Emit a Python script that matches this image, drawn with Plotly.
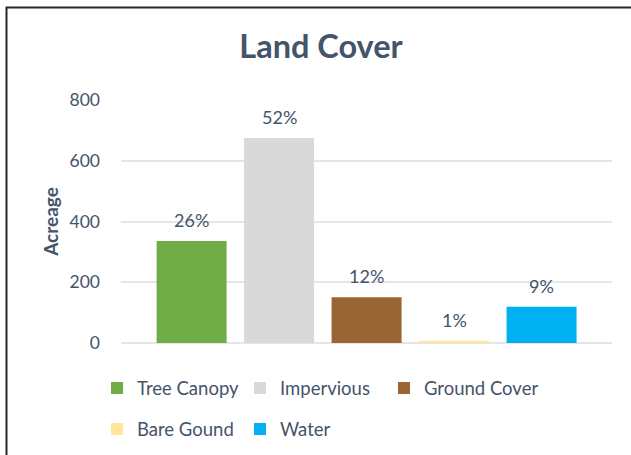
import plotly.graph_objects as go

# Land cover acreage by class
classes = ["Tree Canopy", "Impervious", "Ground Cover", "Bare Gound", "Water"]
acreage = [336, 675, 151, 7, 119]
colors = ["#70AD47", "#D9D9D9", "#996633", "#FFE699", "#00B0F0"]
y_ticks = [0, 200, 400, 600, 800]

total = sum(acreage)
pct_labels = [f"{round(100 * v / total)}%" for v in acreage]

TEXT = "#44546A"
FONT = "Lato"
GRID = "#E3E6EA"

W, H = 631, 455
ml, mr, mt, mb = 121, 19, 100, 112
pw, ph = W - ml - mr, H - mt - mb


def px_x(p):
    return (p - ml) / pw


def px_y(p):
    return (H - mb - p) / ph


# legend entry anchors (pixels): two rows, three columns
legend_pos = [(97, 388.5), (240, 388.5), (384, 388.5), (97, 429.5), (240, 429.5)]

fig = go.Figure()
legend_layout = {}
for i, (name, val, col) in enumerate(zip(classes, acreage, colors)):
    key = "legend" if i == 0 else f"legend{i + 1}"
    fig.add_trace(go.Bar(
        x=[i], y=[val], name=name, width=0.8,
        marker=dict(color=col, line=dict(width=0)),
        legend=key, hoverinfo="skip",
    ))
    fig.add_annotation(
        x=i, y=val, text=pct_labels[i], showarrow=False,
        yanchor="middle", yshift=21,
        font=dict(family=FONT, size=18, color=TEXT),
    )
    lx, ly = legend_pos[i]
    legend_layout[key] = dict(
        x=px_x(lx), y=px_y(ly), xanchor="left", yanchor="middle",
        orientation="h", itemwidth=30, borderwidth=0,
        bgcolor="rgba(0,0,0,0)",
        font=dict(family=FONT, size=18.5, color=TEXT),
    )

# chart frame
fig.add_shape(type="rect", xref="paper", yref="paper",
              x0=px_x(6.5), x1=px_x(660), y0=px_y(480), y1=px_y(7.5),
              line=dict(color="#262626", width=2), fillcolor="rgba(0,0,0,0)",
              layer="above")

fig.update_layout(
    width=W, height=H,
    margin=dict(l=ml, r=mr, t=mt, b=mb, autoexpand=False),
    paper_bgcolor="white", plot_bgcolor="white",
    barmode="overlay",
    title=dict(text="<b>Land Cover</b>", x=321 / W, xanchor="center",
               y=1 - 47 / H, yanchor="middle",
               font=dict(family=FONT, size=32.5, color=TEXT)),
    xaxis=dict(range=[-0.807, 4.805], showticklabels=False, showgrid=False,
               zeroline=False, showline=False, fixedrange=True),
    yaxis=dict(range=[0, 800], tickvals=y_ticks, showgrid=True, gridcolor=GRID,
               gridwidth=1.5, zeroline=True, zerolinecolor=GRID, zerolinewidth=1.5,
               showline=False, ticklabelstandoff=20,
               tickfont=dict(family=FONT, size=17.5, color=TEXT),
               title=dict(text="<b>Acreage</b>", standoff=5,
                          font=dict(family=FONT, size=19, color=TEXT))),
    showlegend=True,
    **legend_layout,
)

fig.write_html("out.html")
